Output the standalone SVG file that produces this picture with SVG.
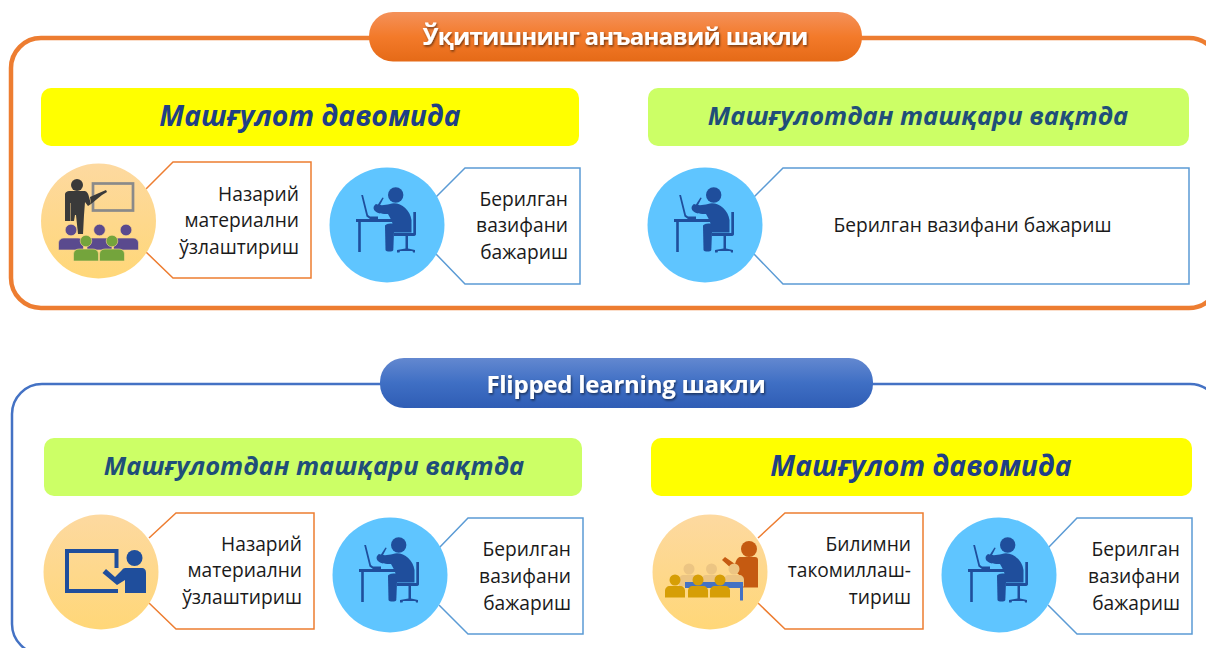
<svg xmlns="http://www.w3.org/2000/svg" width="1206" height="648" viewBox="0 0 1206 648">
<style>
text{font-family:"Open Sans","Noto Sans","Liberation Sans",sans-serif}
.t{font-size:19.200px;fill:#1a1a1a;text-anchor:end}
.m{text-anchor:middle}
.h1{font-size:28.300px;font-weight:700;font-style:italic;fill:#1f3f86;text-anchor:middle}
.h2{font-size:25.500px;font-weight:700;font-style:italic;fill:#1f4e79;text-anchor:middle}
.p{font-size:24px;font-weight:700;fill:#fff;text-anchor:middle;filter:url(#sh);letter-spacing:-.7px}
.co{fill:#fff;stroke:#ed7d31;stroke-width:1.500}
.cb{fill:#fff;stroke:#5b9bd5;stroke-width:1.500}
.y{fill:#ffff00}.g{fill:#ccff66}
.blue{fill:#1f4e9c}
</style>
<defs>
<linearGradient id="po" x1="0" y1="0" x2="0" y2="1"><stop offset="0" stop-color="#f4915a"/><stop offset=".5" stop-color="#f37a2a"/><stop offset="1" stop-color="#e56a17"/></linearGradient>
<linearGradient id="pb" x1="0" y1="0" x2="0" y2="1"><stop offset="0" stop-color="#6388d0"/><stop offset=".5" stop-color="#3f6fc4"/><stop offset="1" stop-color="#2f5db5"/></linearGradient>
<linearGradient id="cy" x1="0" y1="0" x2="0" y2="1"><stop offset="0" stop-color="#fdd9a0"/><stop offset="1" stop-color="#ffd778"/></linearGradient>
<filter id="sh" x="-5%" y="-20%" width="110%" height="150%"><feDropShadow dx="1" dy="1.500" stdDeviation="1" flood-color="#000" flood-opacity=".55"/></filter>
<g id="worker">
<circle r="57.500" fill="#5fc5ff"/>
<g class="blue">
<circle cx="8.700" cy="-30" r="7.700"/>
<path d="M-25.800-30-24-30-19-10-17-8.500H-9V-6H-31V-3H-28.800V27H-26.200V-3H9V-6H-17L-20.500-8.500Z"/>
<path d="M-4.500-27.500-3.300-27-8-18-10-19Z"/>
<path d="M-11-21C-6-19 -2-20 3-21 12-24 23-16 24.500-5V7.500H7C7 0 4-6 1-11-4-11-9-11-12-14-14-16-14-19-11-21Z"/>
<path d="M-2 1C-2-1 4-2 7-1V7L6.300 25C6 27-1 27-1.500 25Z"/>
<path d="M26.300-13H29V9C29 10.500 28 11 26 11H21V23.500L28 25V27.500H26L25.500 26H13L12.500 27.500H10V25L18.500 23.500V11H7V8H26.300Z"/>
</g>
</g>
<g id="ppl"><circle r="5.500"/><path d="M-10 17.500V11C-10 8-8 6-5 6H5C8 6 10 8 10 11V17.500Z"/></g>
<g id="ppla"><circle r="5.800"/><path d="M-12.500 20V13C-12.500 10-10 8-7 8H7C10 8 12.500 10 12.500 13V20Z"/></g>
</defs>

<g id="connectors" fill="none">
<rect x="11" y="38" width="1208" height="270" rx="30" stroke="#ed7d31" stroke-width="4.500"/>
<rect x="12" y="384" width="1208" height="270" rx="30" stroke="#4472c4" stroke-width="2.500"/>
</g>

<g id="header-top"><rect x="369" y="12" width="493" height="49.500" rx="24" fill="url(#po)"/><text class="p" x="615" y="45">Ўқитишнинг анъанавий шакли</text></g>
<g id="bar-top-left"><rect class="y" x="41" y="88" width="538" height="58" rx="10"/><text class="h1" x="310" y="126">Машғулот давомида</text></g>
<g id="bar-top-right"><rect class="g" x="648" y="88" width="541" height="58" rx="10"/><text class="h2" x="918" y="125">Машғулотдан ташқари вақтда</text></g>

<g id="node-top-1">
<path class="co" d="M146 189 173 162H311V278H173L146 252"/>
<circle cx="98.500" cy="221" r="57.500" fill="url(#cy)"/>
<rect x="93" y="183.500" width="40" height="27" fill="none" stroke="#8a8a8a" stroke-width="2.700"/>
<path d="M90 197 99 193 106 190 107 192 102 195 91 204Z" fill="#3a3a3a"/>
<g fill="#3a3a3a"><circle cx="77" cy="185" r="6"/><path d="M65 195C65 192 67 191 70 191H84C86 191 88 192 89 197L91 204 88 206 85 202 84 215 83 234H78L76 215H75L74 221H71V203H70.500V221H65Z"/></g>
<g fill="#5a4a8e" stroke="#fdd78a" stroke-width=".6"><use href="#ppla" transform="translate(71,230)"/><use href="#ppla" transform="translate(99.500,230)"/><use href="#ppla" transform="translate(126,230)"/></g>
<g fill="#74a43c" stroke="#fdd78a" stroke-width=".6"><use href="#ppla" transform="translate(86,241)"/><use href="#ppla" transform="translate(112,241)"/></g>
<text class="t" x="299" y="201">Назарий</text><text class="t" x="299" y="227">материални</text><text class="t" x="299" y="254">ўзлаштириш</text>
</g>

<g id="node-top-2">
<path class="cb" d="M436 197 465 168H580V284H465L436 254"/>
<use href="#worker" x="387" y="225"/>
<text class="t" x="568" y="206">Берилган</text><text class="t" x="568" y="232">вазифани</text><text class="t" x="568" y="259">бажариш</text>
</g>

<g id="node-top-3">
<path class="cb" d="M754 197 783 168H1189V284H783L754 254"/>
<use href="#worker" x="705" y="225"/>
<text class="t m" x="972.500" y="232">Берилган вазифани бажариш</text>
</g>

<g id="header-bottom"><rect x="380" y="358" width="493" height="50" rx="24" fill="url(#pb)"/><text class="p" x="626" y="393" style="letter-spacing:-.25px">Flipped learning шакли</text></g>
<g id="bar-bottom-left"><rect class="g" x="44" y="438" width="538" height="58" rx="10"/><text class="h2" x="314" y="475">Машғулотдан ташқари вақтда</text></g>
<g id="bar-bottom-right"><rect class="y" x="651" y="438" width="541" height="58" rx="10"/><text class="h1" x="921" y="476">Машғулот давомида</text></g>

<g id="node-bottom-1">
<path class="co" d="M149 538 176 513H314V629H176L149 603"/>
<circle cx="101" cy="572" r="57.500" fill="url(#cy)"/>
<path d="M116.500 568V551H67V591H118" fill="none" stroke="#1f4e9c" stroke-width="4"/>
<g class="blue"><circle cx="134.500" cy="558" r="8"/><path d="M102.500 573 106 569 115 577 122 570C123 568 125 568 127 568H141C145 568 146 570 146 573V593H125V580L117 585Z"/></g>
<text class="t" x="302" y="551">Назарий</text><text class="t" x="302" y="577">материални</text><text class="t" x="302" y="604">ўзлаштириш</text>
</g>

<g id="node-bottom-2">
<path class="cb" d="M439 548 468 518H583V634H468L439 605"/>
<use href="#worker" x="390" y="575"/>
<text class="t" x="571" y="556">Берилган</text><text class="t" x="571" y="583">вазифани</text><text class="t" x="571" y="610">бажариш</text>
</g>

<g id="node-bottom-3">
<path class="co" d="M758 538 785 513H923V629H785L758 603"/>
<circle cx="710" cy="572" r="57.500" fill="url(#cy)"/>
<g fill="#c55a11"><circle cx="749" cy="549" r="8"/><path d="M722 560 725 557 735 564C737 557 739 557 742 557H755C757 557 758 558 758 560V587.500H743V578L732 569Z"/></g>
<g fill="#ecc583"><use href="#ppl" transform="translate(689,569)"/><use href="#ppl" transform="translate(711.500,569)"/><use href="#ppl" transform="translate(734,569)"/></g>
<g fill="#4472c4"><rect x="685" y="582" width="58" height="6"/><rect x="740" y="582" width="3" height="18.500"/></g>
<g fill="#d69e06"><use href="#ppl" transform="translate(675,580)"/><use href="#ppl" transform="translate(698,580)"/><use href="#ppl" transform="translate(720,580)"/></g>
<text class="t" x="911" y="551">Билимни</text><text class="t" x="911" y="577">такомиллаш-</text><text class="t" x="911" y="604">тириш</text>
</g>

<g id="node-bottom-4">
<path class="cb" d="M1048 548 1077 518H1192V634H1077L1048 605"/>
<use href="#worker" x="999" y="575"/>
<text class="t" x="1180" y="556">Берилган</text><text class="t" x="1180" y="583">вазифани</text><text class="t" x="1180" y="610">бажариш</text>
</g>
</svg>
